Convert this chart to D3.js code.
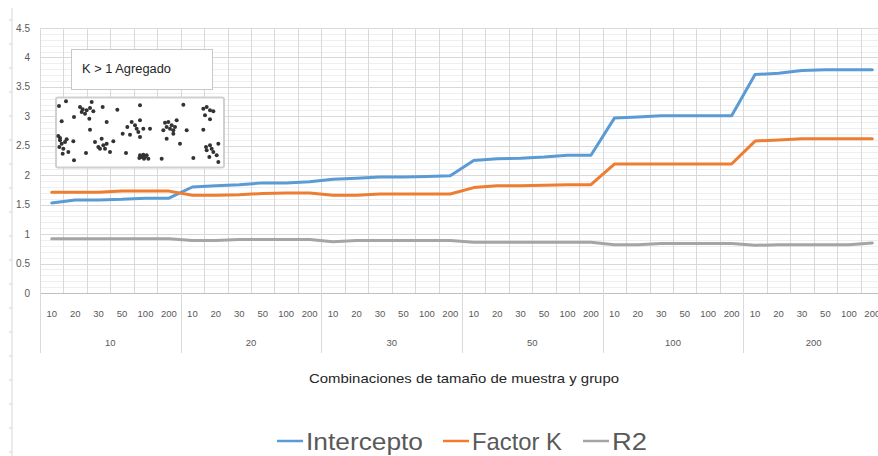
<!DOCTYPE html>
<html><head><meta charset="utf-8">
<script src="https://cdn.jsdelivr.net/npm/d3@7"></script>
<style>html,body{margin:0;padding:0;background:#fff;overflow:hidden}svg{display:block}</style>
</head><body>
<svg id="c" width="878" height="456"></svg>
<script>
// ---- data ----
const groups = ["10","20","30","50","100","200"];
const sizes = ["10","20","30","50","100","200"];
const intercepto = [1.53,1.58,1.58,1.59,1.61,1.61, 1.80,1.82,1.84,1.87,1.87,1.89, 1.93,1.95,1.97,1.97,1.98,1.99, 2.25,2.28,2.29,2.31,2.34,2.34, 2.97,2.99,3.01,3.01,3.01,3.01, 3.71,3.73,3.78,3.79,3.79,3.79];
const factorK = [1.71,1.71,1.71,1.73,1.73,1.73, 1.66,1.66,1.67,1.69,1.70,1.70, 1.66,1.66,1.68,1.68,1.68,1.68, 1.79,1.82,1.82,1.83,1.84,1.84, 2.19,2.19,2.19,2.19,2.19,2.19, 2.58,2.60,2.62,2.62,2.62,2.62];
const r2 = [0.92,0.92,0.92,0.92,0.92,0.92, 0.89,0.89,0.91,0.91,0.91,0.91, 0.87,0.89,0.89,0.89,0.89,0.89, 0.86,0.86,0.86,0.86,0.86,0.86, 0.82,0.82,0.84,0.84,0.84,0.84, 0.81,0.82,0.82,0.82,0.82,0.85];
const yTicks = [0,0.5,1,1.5,2,2.5,3,3.5,4,4.5];
const seriesNames = ["Intercepto","Factor K","R2"];
const colors = ["#5b9bd5","#ed7d31","#a5a5a5"];
const insetLabel = "K > 1 Agregado";
const xTitle = "Combinaciones de tamaño de muestra y grupo";
// inset picture dots (relative units 0..600 x 0..240 of the small picture)
const insetDots = [[57,32],[78,18],[65,78],[120,35],[128,42],[140,45],[150,38],[155,20],[135,55],[125,50],[160,48],[102,65],[148,70],
[188,35],[200,80],[150,103],[232,43],[55,122],[60,135],[65,145],[58,155],[70,160],[75,140],[80,132],[85,170],[100,138],[102,195],[68,175],[60,128],
[165,140],[175,155],[185,130],[190,150],[180,160],[195,160],[200,145],[210,170],[220,138],[138,173],[258,173],[248,115],[262,95],[270,118],[275,80],
[285,90],[290,100],[295,110],[300,75],[300,125],[310,100],[330,100],[300,30],[300,180],[305,185],[310,178],[315,185],[320,180],[325,190],[298,188],[312,190],
[365,190],[375,82],[380,95],[385,80],[390,100],[395,90],[400,105],[405,95],[410,75],[400,115],[380,130],[370,105],[420,145],[440,105],[430,28],[460,188],
[490,40],[500,35],[510,45],[520,48],[495,60],[510,72],[490,103],[500,165],[510,150],[515,160],[520,170],[530,180],[508,185],[535,145],[535,200],[498,155]];

// ---- layout ----
const svg = d3.select("#c");
const L = 40, R = 884, T = 28, B = 293;
const cats = [];
groups.forEach(g => sizes.forEach(s => cats.push(g + "|" + s)));
const x = d3.scaleBand().domain(cats).range([L, R]);
const y = d3.scaleLinear().domain([0, 4.5]).range([B, T]);
const font = "'Liberation Sans', Arial, sans-serif";

// left decorative edge line with ticks
svg.append("line").attr("x1",12).attr("x2",12).attr("y1",8).attr("y2",456).attr("stroke","#d6d6d6").attr("stroke-width",1);
svg.selectAll(".edgeTick").data(d3.range(20,456,24)).join("line")
  .attr("x1",9).attr("x2",12).attr("y1",d=>d).attr("y2",d=>d).attr("stroke","#d6d6d6");

// minor horizontal grid
svg.append("g").selectAll("line").data(d3.range(0,4.5,0.1).filter(v=>Math.abs(v*2-Math.round(v*2))>1e-6)).join("line")
  .attr("x1",L).attr("x2",R).attr("y1",d=>Math.round(y(d))+0.5).attr("y2",d=>Math.round(y(d))+0.5)
  .attr("stroke","#efefef").attr("stroke-width",1);
// major horizontal grid
svg.append("g").selectAll("line").data(yTicks.slice(1)).join("line")
  .attr("x1",L).attr("x2",R).attr("y1",d=>Math.round(y(d))+0.5).attr("y2",d=>Math.round(y(d))+0.5)
  .attr("stroke","#d9d9d9").attr("stroke-width",1);
// vertical grid at category boundaries
svg.append("g").selectAll("line").data(cats).join("line")
  .attr("x1",d=>Math.round(x(d))+0.5).attr("x2",d=>Math.round(x(d))+0.5).attr("y1",T).attr("y2",B)
  .attr("stroke","#d9d9d9").attr("stroke-width",1);

// y labels
svg.append("g").selectAll("text").data(yTicks).join("text")
  .attr("x",30).attr("y",d=>y(d)+3.5).attr("text-anchor","end")
  .attr("font-family",font).attr("font-size",10).attr("fill","#595959")
  .text(d=>d3.format("~g")(d));

// x axis line
svg.append("line").attr("x1",L).attr("x2",R).attr("y1",B+0.5).attr("y2",B+0.5).attr("stroke","#bfbfbf");
// group separators extend down
const gScale = d3.scaleBand().domain(groups).range([L, R]);
svg.append("g").selectAll("line").data(groups).join("line")
  .attr("x1",d=>Math.round(gScale(d))+0.5).attr("x2",d=>Math.round(gScale(d))+0.5).attr("y1",B).attr("y2",353)
  .attr("stroke","#d9d9d9");
// inner labels
svg.append("g").selectAll("text").data(cats).join("text")
  .attr("x",d=>x(d)+x.bandwidth()/2).attr("y",317).attr("text-anchor","middle")
  .attr("font-family",font).attr("font-size",9.5).attr("fill","#595959")
  .text(d=>d.split("|")[1]);
// group labels
svg.append("g").selectAll("text").data(groups).join("text")
  .attr("x",d=>gScale(d)+gScale.bandwidth()/2).attr("y",346).attr("text-anchor","middle")
  .attr("font-family",font).attr("font-size",9.5).attr("fill","#595959")
  .text(d=>d);

// axis title
svg.append("text").attr("x",464).attr("y",383).attr("text-anchor","middle")
  .attr("font-family",font).attr("font-size",13).attr("fill","#262626")
  .attr("textLength",310).attr("lengthAdjust","spacingAndGlyphs").text(xTitle);

// lines
const allSeries = [intercepto, factorK, r2];
const line = d3.line().x((d,i)=>x(cats[i])+x.bandwidth()/2).y(d=>y(d));
// draw in order R2, Factor K, Intercepto? Excel draws series in order; last on top
allSeries.forEach((s,k)=>{
  svg.append("path").datum(s).attr("d",line).attr("fill","none")
    .attr("stroke",colors[k]).attr("stroke-width",3).attr("stroke-linejoin","round").attr("stroke-linecap","round");
});

// inset text box
svg.append("rect").attr("x",71.5).attr("y",49.5).attr("width",141).attr("height",40)
  .attr("fill","#fff").attr("stroke","#c8c8c8").attr("stroke-width",1);
svg.append("text").attr("x",82).attr("y",73).attr("font-family",font).attr("font-size",12.5).attr("fill","#262626")
  .attr("textLength",89).attr("lengthAdjust","spacingAndGlyphs").text(insetLabel);

// inset picture
svg.append("rect").attr("x",56).attr("y",97.5).attr("width",168).attr("height",70).attr("rx",2)
  .attr("fill","#fff").attr("stroke","#d0d0d0").attr("stroke-width",2);
const ix = d3.scaleLinear().domain([48,552]).range([56,224]);
const iy = d3.scaleLinear().domain([5,218]).range([97,168]);
svg.append("g").selectAll("circle").data(insetDots).join("circle")
  .attr("cx",d=>ix(d[0])).attr("cy",d=>iy(d[1])).attr("r",2).attr("fill","#333");

// legend
const legX = [277, 443, 583];
const legW = [117, 90, 35];
const lg = svg.append("g");
seriesNames.forEach((n,k)=>{
  lg.append("line").attr("x1",legX[k]).attr("x2",legX[k]+26).attr("y1",441).attr("y2",441)
    .attr("stroke",colors[k]).attr("stroke-width",2.5);
  lg.append("text").attr("x",legX[k]+29).attr("y",450).attr("font-family",font).attr("font-size",24)
    .attr("fill","#595959").attr("textLength",legW[k]).attr("lengthAdjust","spacingAndGlyphs").text(n);
});
</script>
</body></html>
